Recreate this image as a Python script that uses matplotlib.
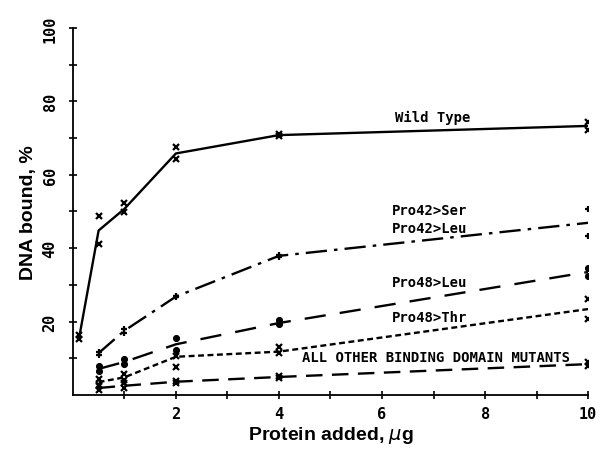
import matplotlib
matplotlib.use("Agg")
import matplotlib.pyplot as plt

# ---- data ----
x_wt = [0.125, 0.5, 1, 2, 4, 10]
wt_line = [15.8, 44.8, 50.7, 65.8, 70.8, 73.3]
wt_rep1 = [15.3, 48.8, 52.4, 67.5, 71.0, 74.5]
wt_rep2 = [16.4, 41.1, 49.9, 64.3, 70.6, 72.2]

x_mut = [0.5, 1, 2, 4, 10]
p42_line = [11.4, 17.5, 26.8, 37.9, 46.9]
p42_rep1 = [11.8, 18.0, 27.0, 38.1, 50.7]
p42_rep2 = [10.8, 17.0, 26.6, 37.7, 43.3]

p48l_line = [7.1, 9.0, 13.8, 19.6, 33.5]
p48l_rep1 = [7.8, 9.8, 15.5, 20.3, 34.5]
p48l_rep2 = [6.6, 8.3, 12.2, 19.2, 32.5]

p48t_line = [3.5, 4.8, 10.4, 11.8, 23.4]
p48t_rep1 = [4.3, 5.6, 10.6, 13.2, 26.2]
p48t_rep2 = [2.8, 4.0, 7.6, 11.4, 20.7]

oth_line = [1.9, 2.5, 3.6, 4.9, 8.4]
oth_rep1 = [2.4, 3.2, 3.9, 5.2, 9.0]
oth_rep2 = [1.4, 2.0, 3.3, 4.6, 8.0]

labels = [
    ("Wild Type", 6.25, 75.7),
    ("Pro42>Ser", 6.2, 50.3),
    ("Pro42>Leu", 6.2, 45.6),
    ("Pro48>Leu", 6.2, 30.8),
    ("Pro48>Thr", 6.2, 21.3),
    ("ALL OTHER BINDING DOMAIN MUTANTS", 4.45, 10.4),
]

xticks = list(range(1, 11))
xticklabels = ["", "2", "", "4", "", "6", "", "8", "", "10"]
yticks = list(range(10, 101, 10))
yticklabels = ["", "20", "", "40", "", "60", "", "80", "", "100"]

# ---- figure ----
fig = plt.figure(figsize=(6.02, 4.52), dpi=100)
ax = fig.add_axes([0.121, 0.124, 0.856, 0.812])

lw = 1.7
ax.plot(x_wt, wt_line, color="black", lw=lw, ls="-")
ax.plot(x_mut, p42_line, color="black", lw=lw, ls=(0, (9, 3, 1.5, 3)))
ax.plot(x_mut, p48l_line, color="black", lw=lw, ls=(0, (9, 6)))
ax.plot(x_mut, p48t_line, color="black", lw=lw, ls=(0, (2.5, 1.5)))
ax.plot(x_mut, oth_line, color="black", lw=lw, ls=(0, (7, 4)))

mk = dict(color="black", ls="none", mew=1.6)
for r in (wt_rep1, wt_rep2):
    ax.plot(x_wt, r, marker="x", ms=4, **mk)
for r in (p42_rep1, p42_rep2):
    ax.plot(x_mut, r, marker="+", ms=5, **mk)
for r in (p48l_rep1, p48l_rep2):
    ax.plot(x_mut, r, marker="o", ms=3.5, **mk)
for r in (p48t_rep1, p48t_rep2):
    ax.plot(x_mut, r, marker="x", ms=4, **mk)
for r in (oth_rep1, oth_rep2):
    ax.plot(x_mut, r, marker="x", ms=4, **mk)

for txt, tx, ty in labels:
    ax.text(tx, ty, txt, fontsize=10, fontweight="bold",
            family="DejaVu Sans Mono", ha="left", va="center")

ax.set_xlim(0.0, 10)
ax.set_ylim(0, 100)
ax.set_xticks(xticks)
ax.set_xticklabels(xticklabels, fontsize=11, fontweight="bold", family="DejaVu Sans Mono")
ax.set_yticks(yticks)
ax.set_yticklabels(yticklabels, fontsize=11, fontweight="bold", family="DejaVu Sans Mono",
                   rotation=90, va="center")
ax.tick_params(direction="inout", length=6, width=1.2)
ax.tick_params(axis="x", pad=5)
ax.tick_params(axis="y", pad=8)
for s in ("top", "right"):
    ax.spines[s].set_visible(False)
for s in ("left", "bottom"):
    ax.spines[s].set_linewidth(1.3)

ax.set_xlabel("Protein added, $\\mu$g", fontsize=14, fontweight="bold",
              family="Liberation Sans", labelpad=2)
ax.set_ylabel("DNA bound, %", fontsize=14, fontweight="bold",
              family="Liberation Sans", labelpad=4)

fig.savefig("out.png", dpi=100)
